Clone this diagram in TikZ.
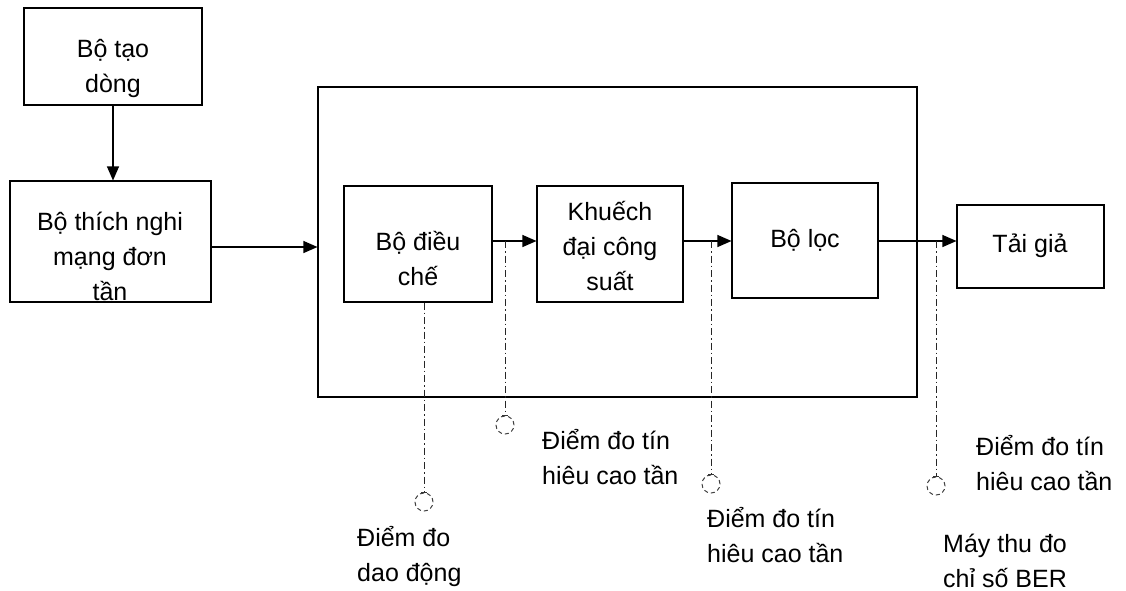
\documentclass[tikz,border=0pt]{standalone}
\usepackage{fontspec}
\setmainfont{Liberation Sans}
\usetikzlibrary{arrows.meta}
\begin{document}
\begin{tikzpicture}[x=1pt,y=-1pt,
  box/.style={draw=black,line width=1.1pt,rectangle,inner sep=0pt},
  arr/.style={line width=1.1pt,-{Triangle[length=14pt,width=12pt]}},
  probe/.style={draw=black!85,line width=1pt,dash pattern=on 7pt off 3pt on 1.5pt off 3pt},
  probec/.style={draw=black!75,line width=1pt,dash pattern=on 4pt off 3pt,circle,minimum size=18pt,inner sep=0pt},
  txt/.style={font=\fontsize{25}{35}\selectfont,align=center,inner sep=0pt,anchor=base},
  lbl/.style={font=\fontsize{25}{35}\selectfont,align=left,inner sep=0pt,anchor=base west}]
\useasboundingbox[fill=white] (0,0) rectangle (1126,590);
% boxes
\node[box,minimum width=178pt,minimum height=97pt] (td) at (113,56.5) {};
\node[box,minimum width=201pt,minimum height=121pt] (tn) at (110.5,241.5) {};
\node[box,minimum width=599pt,minimum height=310pt] (big) at (617.5,242) {};
\node[box,minimum width=148pt,minimum height=116pt] (md) at (418,244) {};
\node[box,minimum width=146pt,minimum height=116pt] (ka) at (610,244) {};
\node[box,minimum width=146pt,minimum height=115pt] (bl) at (805,240.5) {};
\node[box,minimum width=147pt,minimum height=83pt] (tg) at (1030.5,246.5) {};
% box texts (anchor = baseline of last line)
\node[txt] (ttd) at (113,92) {Bộ tạo\\dòng};
\node[txt] (ttn) at (110,300) {Bộ thích nghi\\mạng đơn\\tần};
\node[txt] (tmd) at (418,285) {Bộ điều\\chế};
\node[txt] (tka) at (610,290) {Khuếch\\đại công\\suất};
\node[txt] (tbl) at (805,247) {Bộ lọc};
\node[txt] (ttg) at (1030,252) {Tải giả};
% arrow levels
\coordinate (ya) at (0,241);
\coordinate (yb) at (0,247);
% connectors
\draw[arr] (td.south) -- (td.south |- tn.north);
\draw[arr] (tn.east |- yb) -- (big.west |- yb);
\draw[arr] (md.east |- ya) -- (ka.west |- ya);
\draw[arr] (ka.east |- ya) -- (bl.west |- ya);
\draw[arr] (bl.east |- ya) -- (tg.west |- ya);
% probe circles
\node[probec] (c1) at (424,502) {};
\node[probec] (c2) at (505,425) {};
\node[probec] (c3) at (711,484) {};
\node[probec] (c4) at (936,486) {};
\draw[probe] (c1.north |- md.south) -- (c1.north);
\draw[probe] (c2.north |- ya) -- (c2.north);
\draw[probe] (c3.north |- ya) -- (c3.north);
\draw[probe] (c4.north |- ya) -- (c4.north);
\foreach \c in {c1,c2,c3,c4}{\draw[black!80,line width=1pt] ([xshift=-3pt]\c.north) -- ([xshift=3pt]\c.north);}
% labels (anchor = baseline of last line)
\node[lbl] (l1) at (357,581) {Điểm đo\\dao động};
\node[lbl] (l2) at (542,484) {Điểm đo tín\\hiêu cao tần};
\node[lbl] (l3) at (707,562) {Điểm đo tín\\hiêu cao tần};
\node[lbl] (l4) at (976,490) {Điểm đo tín\\hiêu cao tần};
\node[lbl] (l5) at (943,587) {Máy thu đo\\chỉ số BER};
\end{tikzpicture}
\end{document}
